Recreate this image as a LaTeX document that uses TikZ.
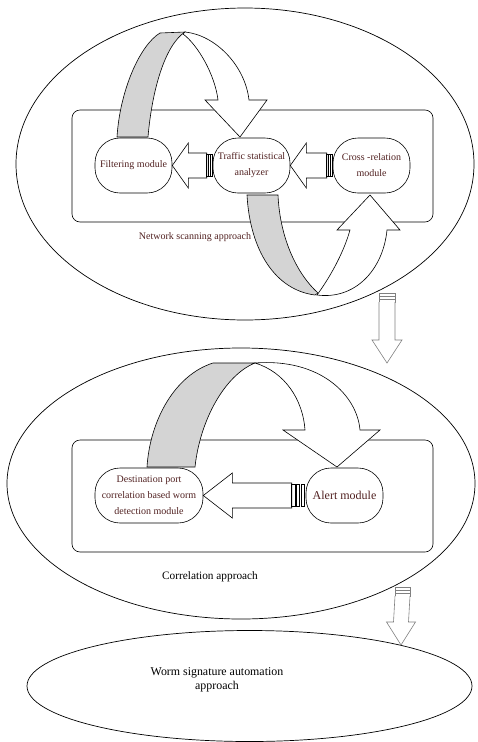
\documentclass[tikz,border=0pt]{standalone}
\usepackage{fontspec}
\setmainfont{Liberation Serif}
\usetikzlibrary{shapes.geometric,calc}

\definecolor{labelred}{RGB}{80,32,32}
\definecolor{ribbongray}{RGB}{212,212,212}

% hollow block arrow pointing left, tip at #1, tail (with bars) at #2
\newcommand{\blockleft}[4]{%
  \draw[fill=white] (#1) -- ++(#3,-22.5) -- ++(0,10) -- ($(#2)+(-#4,-12.5)$) -- ++(0,25) -- ($(#1)+(#3,12.5)$) -- ++(0,10) -- cycle;
  \foreach \bx in {1,2,3} \draw ($(#2)+(-\bx*#4/3,-11)$) rectangle ++(#4/4.5,22);
}
% small grey arrow pointing down from #1 to #2
\newcommand{\hollowdown}[4]{%
  \draw[gray] ($(#1)+(-#3,0)$) rectangle ($(#1)+(#3,9)$);
  \draw[gray] ($(#1)+(-#3,3)$) -- ++(2*#3,0) ($(#1)+(-#3,6)$) -- ++(2*#3,0);
  \draw[gray,fill=white] ($(#1)+(-#3,9)$) -- ($(#2)+(-#3,-23)$) -- ($(#2)+(-#4,-23)$) -- (#2) -- ($(#2)+(#4,-23)$) -- ($(#2)+(#3,-23)$) -- ($(#1)+(#3,9)$);
}

\begin{document}
\begin{tikzpicture}[x=1pt,y=1pt,yscale=-1,line width=0.6pt,
    approach/.style={draw,ellipse,inner sep=0pt,line width=0.7pt},
    stagebox/.style={draw,rounded corners=8pt,minimum width=361pt,minimum height=112pt},
    modbox/.style={draw,rounded corners=25pt,minimum height=55pt,inner sep=1pt,align=center,text=labelred,font=\fontsize{10}{16}\selectfont},
    ribbonback/.style={draw,fill=ribbongray},
    ribbonfront/.style={draw,fill=white}]
\useasboundingbox (0,0) rectangle (477,742);

%Shape: Ellipse
\node[approach,minimum width=458pt,minimum height=312pt] (net) at (245,164) {};
\node[approach,minimum width=468pt,minimum height=271pt] (cor) at (241,483.5) {};
\node[approach,minimum width=445pt,minimum height=111pt] (wsa) at (249.5,686) {};

%Shape: Rectangle
\node[stagebox] (netbox) at (252.5,166) {};
\node[stagebox] (corbox) at (252.5,496) {};

%Curve Lines: network scanning, upper ribbon
\draw[ribbonback] (117,137) .. controls (120,90) and (140,45) .. (160,33) -- (185,32) .. controls (165,45) and (152,90) .. (148,137) -- cycle;
\draw[ribbonfront] (185,32) .. controls (215,35) and (245,65) .. (249,100) -- (267,100) -- (240,137) -- (205,100) -- (218,100) .. controls (215,75) and (198,45) .. (183,34) -- cycle;
%Curve Lines: network scanning, lower ribbon
\draw[ribbonback] (247,195) .. controls (250,250) and (275,290) .. (315,295) -- (318,293) .. controls (298,275) and (280,240) .. (278,195) -- cycle;
\draw[ribbonfront] (317,295) .. controls (355,300) and (383,270) .. (387,230) -- (400,230) -- (370,195) -- (337,230) -- (350,230) .. controls (343,255) and (328,280) .. (317,295) -- cycle;
%Curve Lines: correlation ribbon
\draw[ribbonback] (147,467) .. controls (150,420) and (175,375) .. (213,363) -- (255,363) .. controls (225,375) and (200,420) .. (195,467) -- cycle;
\draw[ribbonfront] (255,363) .. controls (320,358) and (357,395) .. (360,430) -- (380,430) -- (337,467) -- (283,430) -- (305,430) .. controls (303,400) and (285,372) .. (255,363) -- cycle;

% Modules
\node[modbox,minimum width=77pt] (flt) at (133.5,165.5) {Filtering module};
\node[modbox,minimum width=77pt] (trf) at (251.5,165.5) {Traffic statistical\\analyzer};
\node[modbox,minimum width=77pt] (crs) at (371.5,165.5) {Cross -relation\\module};
\node[modbox,minimum width=108pt] (dst) at (149,495.5) {Destination port\\correlation based worm\\detection module};
\node[modbox,minimum width=77pt,font=\fontsize{12}{14}\selectfont] (alr) at (344.5,495.5) {Alert module};

% Block arrows
\blockleft{flt.east}{trf.west}{16}{6}
\blockleft{trf.east}{crs.west}{16}{6}
\blockleft{dst.east}{alr.west}{29}{14}

% Text Node
\node[text=labelred,font=\fontsize{10}{12}\selectfont] (netlbl) at (195,237) {Network scanning approach};
\node[font=\fontsize{11.3}{13}\selectfont] (corlbl) at (210,577) {Correlation approach};
\node[align=center,font=\fontsize{11.9}{13.5}\selectfont] (wsalbl) at (217,680) {Worm signature automation\\approach};

% Links between approaches
\coordinate (netout) at (387,293);
\coordinate (corin) at (387,363);
\coordinate (corout) at (402.5,587);
\coordinate (wsain) at (401,645);
\hollowdown{netout}{corin}{8}{15}
\hollowdown{corout}{wsain}{7.5}{14.5}

\end{tikzpicture}
\end{document}
